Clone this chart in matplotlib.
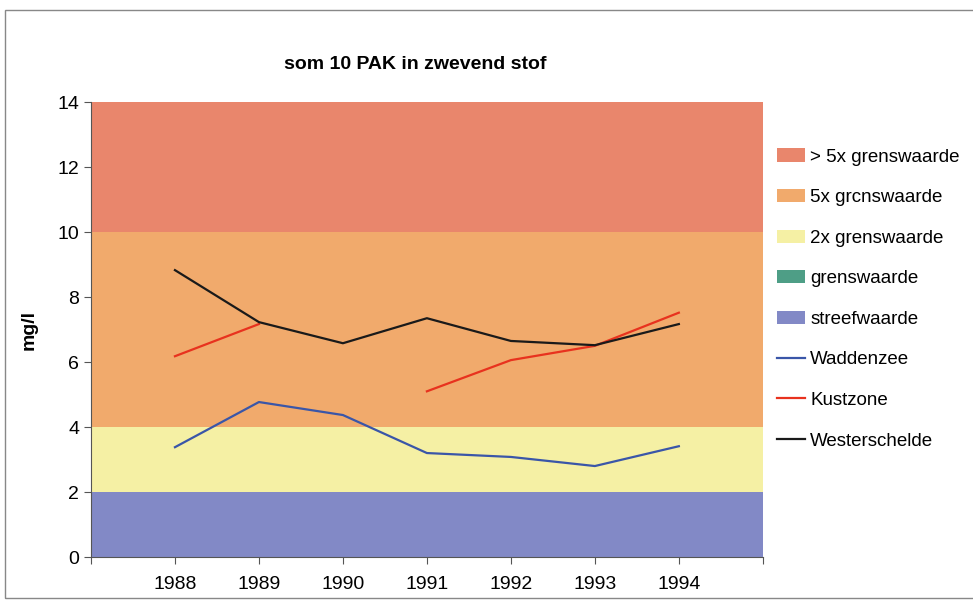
import numpy as np
import matplotlib.pyplot as plt
from matplotlib.patches import Patch, Rectangle
from matplotlib.lines import Line2D

plt.rcParams['font.family'] = ['Liberation Sans', 'DejaVu Sans']

years = ['1988', '1989', '1990', '1991', '1992', '1993', '1994']
waddenzee = [3.38, 4.77, 4.37, 3.2, 3.08, 2.8, 3.41]
kustzone = [6.18, 7.17, np.nan, 5.1, 6.06, 6.5, 7.52]
westerschelde = [8.83, 7.23, 6.58, 7.35, 6.65, 6.52, 7.17]

# norm bands (lower, upper, label, colour), top to bottom for the legend
bands = [
    (10, 14, '> 5x grenswaarde', '#E9866C'),
    (4, 10, '5x grcnswaarde', '#F1AA6C'),
    (2, 4, '2x grenswaarde', '#F5F0A4'),
    (2, 2, 'grenswaarde', '#4E9E86'),
    (0, 2, 'streefwaarde', '#8289C6'),
]

fig = plt.figure(figsize=(9.73, 6.01), dpi=100)
ax = fig.add_axes([0.0935, 0.0732, 0.6905, 0.7568])

x = np.arange(len(years))
handles = []
for lo, hi, lab, col in bands:
    if hi > lo:
        ax.axhspan(lo, hi, color=col, lw=0, zorder=0)
    handles.append(Patch(facecolor=col, edgecolor='none', label=lab))

series = [('Waddenzee', waddenzee, '#3A56A8'),
          ('Kustzone', kustzone, '#E8321E'),
          ('Westerschelde', westerschelde, '#1A1A1A')]
for name, vals, col in series:
    ax.plot(x, vals, color=col, lw=1.6, zorder=3)
    handles.append(Line2D([], [], color=col, lw=1.6, label=name))

ax.set_xlim(-1, len(years))
ax.set_ylim(0, 14)
ax.set_yticks(range(0, 15, 2))
ax.set_xticks(np.arange(-1, len(years) + 1))
ax.set_xticklabels([''] + years + [''])
ax.tick_params(labelsize=14, length=5, color='#555555', direction='out')
ax.tick_params(axis='x', pad=9)
for s in ['top', 'right']:
    ax.spines[s].set_visible(False)
for s in ['left', 'bottom']:
    ax.spines[s].set_color('#555555')

ax.set_ylabel('mg/l', fontsize=14, fontweight='bold', labelpad=14)
fig.text(0.427, 0.892, 'som 10 PAK in zwevend stof', fontsize=14,
         fontweight='bold', ha='center', va='center')

fig.legend(handles=handles, loc='upper left', bbox_to_anchor=(0.799, 0.753),
           frameon=False, fontsize=13.5, labelspacing=1.25, borderaxespad=0,
           borderpad=0, handlelength=1.45, handleheight=0.7, handletextpad=0.3)

# thin outer frame of the chart area
fig.patches.append(Rectangle((0.005, 0.005), 1.2, 0.978, transform=fig.transFigure,
                             fill=False, edgecolor='#888888', lw=1))

fig.savefig('out.png', dpi=100)
